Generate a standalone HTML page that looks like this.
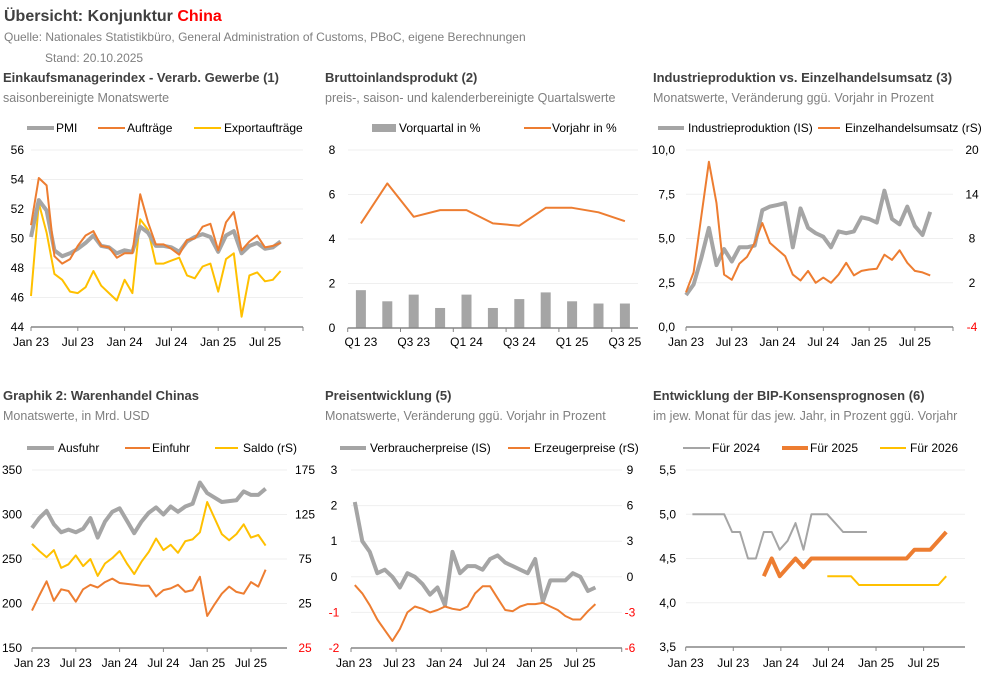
<!DOCTYPE html>
<html><head><meta charset="utf-8">
<style>
html,body{margin:0;padding:0;background:#fff;}
svg{display:block;font-family:"Liberation Sans",sans-serif;}
</style></head>
<body>
<svg id="c" width="985" height="686" viewBox="0 0 985 686" xmlns="http://www.w3.org/2000/svg">
<text x="4" y="21" font-size="16" font-weight="bold" fill="#404040">Übersicht: Konjunktur <tspan fill="#ff0000">China</tspan></text>
<text x="4" y="41" font-size="12" fill="#7f7f7f">Quelle: Nationales Statistikbüro, General Administration of Customs, PBoC, eigene Berechnungen</text>
<text x="45" y="62" font-size="12" fill="#7f7f7f">Stand:  20.10.2025</text>

<text x="3" y="82" font-size="13" font-weight="bold" fill="#404040">Einkaufsmanagerindex - Verarb. Gewerbe (1)</text>
<text x="3" y="102" font-size="12.5" fill="#7f7f7f">saisonbereinigte Monatswerte</text>
<text x="325" y="82" font-size="13" font-weight="bold" fill="#404040">Bruttoinlandsprodukt (2)</text>
<text x="325" y="102" font-size="12.5" fill="#7f7f7f">preis-, saison- und kalenderbereinigte Quartalswerte</text>
<text x="653" y="82" font-size="13" font-weight="bold" fill="#404040">Industrieproduktion vs. Einzelhandelsumsatz (3)</text>
<text x="653" y="102" font-size="12.5" fill="#7f7f7f">Monatswerte, Veränderung ggü. Vorjahr in Prozent</text>

<text x="3" y="400" font-size="13" font-weight="bold" fill="#404040">Graphik 2: Warenhandel Chinas</text>
<text x="3" y="420" font-size="12.5" fill="#7f7f7f">Monatswerte, in Mrd. USD</text>
<text x="325" y="400" font-size="13" font-weight="bold" fill="#404040">Preisentwicklung (5)</text>
<text x="325" y="420" font-size="12.5" fill="#7f7f7f">Monatswerte, Veränderung ggü. Vorjahr in Prozent</text>
<text x="653" y="400" font-size="13" font-weight="bold" fill="#404040">Entwicklung der BIP-Konsensprognosen (6)</text>
<text x="653" y="420" font-size="12.5" fill="#7f7f7f">im jew. Monat für das jew. Jahr, in Prozent ggü. Vorjahr</text>
</svg>
<script>
// ---------- data ----------
const monthLabels = ["Jan 23","Jul 23","Jan 24","Jul 24","Jan 25","Jul 25"];
const pmi = [50.1,52.6,51.9,49.2,48.8,49.0,49.3,49.7,50.2,49.5,49.4,49.0,49.2,49.1,50.8,50.4,49.5,49.5,49.4,49.1,49.8,50.1,50.3,50.1,49.1,50.2,50.5,49.0,49.5,49.7,49.3,49.4,49.8];
const orders = [50.9,54.1,53.6,48.8,48.3,48.6,49.5,50.2,50.5,49.5,49.4,48.7,49.0,49.0,53.0,51.1,49.6,49.6,49.3,48.9,49.9,50.0,50.8,51.0,49.2,51.1,51.8,49.2,49.8,50.2,49.4,49.5,49.7];
const exportOrders = [46.1,52.4,50.4,47.6,47.2,46.4,46.3,46.7,47.8,46.8,46.3,45.8,47.2,46.3,51.3,50.6,48.3,48.3,48.5,48.7,47.5,47.3,48.1,48.3,46.4,48.6,49.0,44.7,47.5,47.7,47.1,47.2,47.8];
const pmiTicks = [56,54,52,50,48,46,44];

const quarters = ["Q1 23","Q2 23","Q3 23","Q4 23","Q1 24","Q2 24","Q3 24","Q4 24","Q1 25","Q2 25","Q3 25"];
const gdpQoQ = [1.7,1.2,1.5,0.9,1.5,0.9,1.3,1.6,1.2,1.1,1.1];
const gdpYoY = [4.7,6.5,5.0,5.3,5.3,4.7,4.6,5.4,5.4,5.2,4.8];
const gdpTicks = [8,6,4,2,0];

const indProd = [1.8,2.4,3.9,5.6,3.5,4.4,3.7,4.5,4.5,4.6,6.6,6.8,6.9,7.0,4.5,6.7,5.6,5.3,5.1,4.5,5.4,5.3,5.4,6.2,6.1,5.9,7.7,6.1,5.8,6.8,5.7,5.2,6.5];
const retail = [0.7,3.4,11.0,18.4,12.8,3.1,2.4,4.6,5.5,7.4,10.1,7.4,6.5,5.6,3.1,2.3,3.6,2.0,2.7,2.0,3.1,4.7,3.0,3.6,3.8,3.9,5.8,5.1,6.4,4.7,3.6,3.4,3.0];
const ipTicksL = ["10,0","7,5","5,0","2,5","0,0"];
const ipTicksR = [20,14,8,2,-4];

const exportsUsd = [285,296,304,289,280,283,280,284,296,274,292,303,307,293,279,292,302,308,300,309,303,309,312,336,324,319,314,315,316,326,322,322,329];
const importsUsd = [192,209,225,203,216,214,202,216,221,218,224,228,223,222,221,220,220,208,215,217,221,213,215,230,186,199,211,219,213,211,224,219,238];
const balanceUsd = [92,84,77,85,65,69,79,67,75,56,70,76,84,70,58,72,83,98,85,91,82,95,97,105,139,121,103,96,103,114,99,102,90];
const tradeTicksL = [350,300,250,200,150];
const tradeTicksR = ["175","125","75","25","25"];

const cpi = [2.1,1.0,0.7,0.1,0.2,0.0,-0.3,0.1,0.0,-0.2,-0.5,-0.3,-0.8,0.7,0.1,0.3,0.3,0.2,0.5,0.6,0.4,0.3,0.2,0.1,0.5,-0.7,-0.1,-0.1,-0.1,0.1,0.0,-0.4,-0.3];
const ppi = [-0.7,-1.4,-2.4,-3.6,-4.5,-5.4,-4.4,-3.0,-2.5,-2.7,-3.0,-2.8,-2.5,-2.7,-2.8,-2.5,-1.4,-0.8,-0.8,-1.8,-2.8,-2.9,-2.5,-2.3,-2.3,-2.2,-2.5,-2.8,-3.3,-3.6,-3.6,-2.9,-2.3];
const priceTicksL = [3,2,1,0,-1,-2];
const priceTicksR = [9,6,3,0,-3,-6];

const fc2024 = [5.0,5.0,5.0,5.0,5.0,4.8,4.8,4.5,4.5,4.8,4.8,4.6,4.7,4.9,4.6,5.0,5.0,5.0,4.9,4.8,4.8,4.8,4.8];
const fc2025 = [null,null,null,null,null,null,null,null,null,4.3,4.5,4.3,4.4,4.5,4.4,4.5,4.5,4.5,4.5,4.5,4.5,4.5,4.5,4.5,4.5,4.5,4.5,4.5,4.6,4.6,4.6,4.7,4.8];
const fc2026 = [null,null,null,null,null,null,null,null,null,null,null,null,null,null,null,null,null,4.3,4.3,4.3,4.3,4.2,4.2,4.2,4.2,4.2,4.2,4.2,4.2,4.2,4.2,4.2,4.3];
const fcTicks = ["5,5","5,0","4,5","4,0","3,5"];
const fcTickVals = [5.5,5.0,4.5,4.0,3.5];

// ---------- helpers ----------
const svg = document.getElementById('c');
const NS = 'http://www.w3.org/2000/svg';
const GRAY='#a5a5a5', ORANGE='#ed7d31', YELLOW='#ffc000';
function mk(tag, attrs){const e=document.createElementNS(NS,tag);for(const k in attrs)e.setAttribute(k,attrs[k]);svg.appendChild(e);return e;}
function txt(x,y,s,anchor,color,size){const e=mk('text',{x:x,y:y,'font-size':size||12,'text-anchor':anchor||'start',fill:color||'#000'});e.textContent=s;return e;}
function linScale(d0,d1,r0,r1){return v=>r0+(v-d0)*(r1-r0)/(d1-d0);}
function series(data,xf,yf,color,w,name){
  let d='',pen=false;
  data.forEach((v,i)=>{if(v===null||v===undefined){pen=false;return;}d+=(pen?'L':'M')+xf(i).toFixed(1)+' '+yf(v).toFixed(1)+' ';pen=true;});
  const p=mk('path',{d:d,fill:'none',stroke:color,'stroke-width':w,'stroke-linejoin':'round','stroke-linecap':'butt'});
  
  
  return p;
}
function grid(x0,x1,ys){ys.forEach(y=>{const g=mk('line',{x1:x0,x2:x1,y1:y,y2:y,stroke:'#efefef','stroke-width':1});
  
  });}
function xaxis(x0,x1,y,ticks){const a=mk('line',{x1:x0,x2:x1,y1:y,y2:y,stroke:'#868686','stroke-width':1.5});
  
  
  ticks.forEach(t=>{const tk=mk('line',{x1:t,x2:t,y1:y,y2:y+4,stroke:'#868686','stroke-width':1});
    
    });}
function legLine(x1,x2,y,color,w,label,tx,name){
  const l=mk('line',{x1:x1,x2:x2,y1:y,y2:y,stroke:color,'stroke-width':w});
  
  
  const t=txt(tx,y+4,label,'start','#000',12);
  
  
}
function ylabels(vals,yf,x,anchor,colorFn,labels,name){
  vals.forEach((v,i)=>{const t=txt(x,yf(v)+4,labels?labels[i]:String(v),anchor,colorFn(v),12);
    
    });
}
function xlabels(xs,y){xs.forEach((x,i)=>{const t=txt(x,y,monthLabels[i],'middle','#000',12);
  
  });}
const blk=()=>'#000', redNeg=v=>v<0?'#ff0000':'#000';

// ---------- Panel 1: PMI ----------
(function(){
  const x0=31, st=7.8, xf=i=>x0+i*st, yf=linScale(56,44,150,327);
  grid(x0,303,pmiTicks.slice(0,-1).map(yf));
  ylabels(pmiTicks,yf,24,'end',blk,null,'pmi-y-label');
  series(exportOrders,xf,yf,YELLOW,2,'export-orders-line');
  series(pmi,xf,yf,GRAY,4,'pmi-line');
  series(orders,xf,yf,ORANGE,2,'orders-line');
  const ticks=[0,6,12,18,24,30].map(xf);
  xaxis(x0,303,327,ticks.concat([303]));
  xlabels(ticks,346);
  legLine(27,54,128,GRAY,4,'PMI',56,'legend-pmi');
  legLine(98,125,128,ORANGE,2,'Aufträge',127,'legend-orders');
  legLine(194,221,128,YELLOW,2,'Exportaufträge',224,'legend-export-orders');
})();

// ---------- Panel 2: GDP ----------
(function(){
  const x0=347.7, st=26.4, xf=i=>x0+(i+0.5)*st, yf=linScale(8,0,150,328);
  grid(348,638,gdpTicks.slice(0,-1).map(yf));
  ylabels(gdpTicks,yf,332,'middle',blk,null,'gdp-y-label');
  gdpQoQ.forEach((v,i)=>{const b=mk('rect',{x:xf(i)-5,y:yf(v),width:10,height:yf(0)-yf(v),fill:GRAY});
    
    });
  series(gdpYoY,xf,yf,ORANGE,2,'gdp-yoy-line');
  const ticks=[0,2,4,6,8,10].map(i=>x0+i*st);
  xaxis(x0,638,328,ticks);
  [0,2,4,6,8,10].forEach(i=>{const t=txt(xf(i),346,quarters[i],'middle','#000',12);
    
    });
  const r=mk('rect',{x:372,y:124,width:24,height:8,fill:GRAY});
  
  
  const t=txt(399,132,'Vorquartal in %','start','#000',12);
  
  
  legLine(524,551,128,ORANGE,2,'Vorjahr in %',552,'legend-yoy');
})();

// ---------- Panel 3: Industrial production vs retail ----------
(function(){
  const x0=686, st=7.63, xf=i=>x0+i*st, yf=linScale(10,0,150,327), yr=linScale(20,-4,150,327);
  grid(686,953,[10,7.5,5,2.5].map(yf));
  ylabels([10,7.5,5,2.5,0],yf,675,'end',blk,ipTicksL,'ip-y-label');
  ylabels(ipTicksR,yr,972,'middle',redNeg,null,'retail-y-label');
  series(indProd,xf,yf,GRAY,4,'industrial-production-line');
  series(retail,xf,yr,ORANGE,2,'retail-sales-line');
  const ticks=[0,6,12,18,24,30].map(xf);
  xaxis(x0,953,327,ticks.concat([953]));
  xlabels(ticks,346);
  legLine(658,684,128,GRAY,4,'Industrieproduktion (IS)',688,'legend-industrial-production');
  legLine(818,840,128,ORANGE,2,'Einzelhandelsumsatz (rS)',845,'legend-retail-sales');
})();

// ---------- Panel 4: Trade ----------
(function(){
  const x0=32, st=7.3, xf=i=>x0+i*st, yf=linScale(350,150,470,648), yr=linScale(175,-25,470,648);
  grid(32,287,[350,300,250,200].map(yf));
  ylabels(tradeTicksL,yf,22,'end',blk,null,'trade-y-label');
  [175,125,75,25,-25].forEach((v,i)=>{const t=txt(305,yr(v)+4,tradeTicksR[i],'middle',v<0?'#ff0000':'#000',12);
    
    });
  series(exportsUsd,xf,yf,GRAY,4,'exports-line');
  series(importsUsd,xf,yf,ORANGE,2,'imports-line');
  series(balanceUsd,xf,yr,YELLOW,2,'trade-balance-line');
  const ticks=[0,6,12,18,24,30].map(xf);
  xaxis(x0,287,648,ticks);
  xlabels(ticks,667);
  legLine(27,54,448,GRAY,4,'Ausfuhr',58,'legend-exports');
  legLine(125,150,448,ORANGE,2,'Einfuhr',152,'legend-imports');
  legLine(215,238,448,YELLOW,2,'Saldo (rS)',243,'legend-balance');
})();

// ---------- Panel 5: Prices ----------
(function(){
  const x0=351, st=7.52, xf=i=>x0+(i+0.5)*st, yf=linScale(3,-2,470,648), yr=linScale(9,-6,470,648);
  grid(351,622,[3,2,1,0,-1].map(yf));
  ylabels(priceTicksL,yf,334,'middle',redNeg,null,'cpi-y-label');
  ylabels(priceTicksR,yr,630,'middle',redNeg,null,'ppi-y-label');
  series(cpi,xf,yf,GRAY,4,'cpi-line');
  series(ppi,xf,yr,ORANGE,2,'ppi-line');
  const ticks=[0,6,12,18,24,30,36].map(i=>x0+i*st);
  xaxis(x0,622,648,ticks);
  xlabels([0,6,12,18,24,30].map(i=>x0+i*st+3),667);
  legLine(340,366,448,GRAY,4,'Verbraucherpreise (IS)',370,'legend-cpi');
  legLine(508,530,448,ORANGE,2,'Erzeugerpreise (rS)',534,'legend-ppi');
})();

// ---------- Panel 6: Forecasts ----------
(function(){
  const x0=685.7, st=7.93, xf=i=>x0+(i+0.85)*st, yf=linScale(5.5,3.5,470,647);
  grid(686,965,[5.5,5.0,4.5,4.0].map(yf));
  ylabels(fcTickVals,yf,676,'end',blk,fcTicks,'forecast-y-label');
  series(fc2024,xf,yf,GRAY,2,'forecast-2024-line');
  series(fc2025,xf,yf,ORANGE,4,'forecast-2025-line');
  series(fc2026,xf,yf,YELLOW,2,'forecast-2026-line');
  const ticks=[0,6,12,18,24,30].map(i=>x0+i*st);
  xaxis(x0,965,647,ticks);
  xlabels(ticks,667);
  legLine(683,710,448,GRAY,2,'Für 2024',712,'legend-2024');
  legLine(782,808,448,ORANGE,4,'Für 2025',810,'legend-2025');
  legLine(880,906,448,YELLOW,2,'Für 2026',910,'legend-2026');
})();
</script>
</body></html>
